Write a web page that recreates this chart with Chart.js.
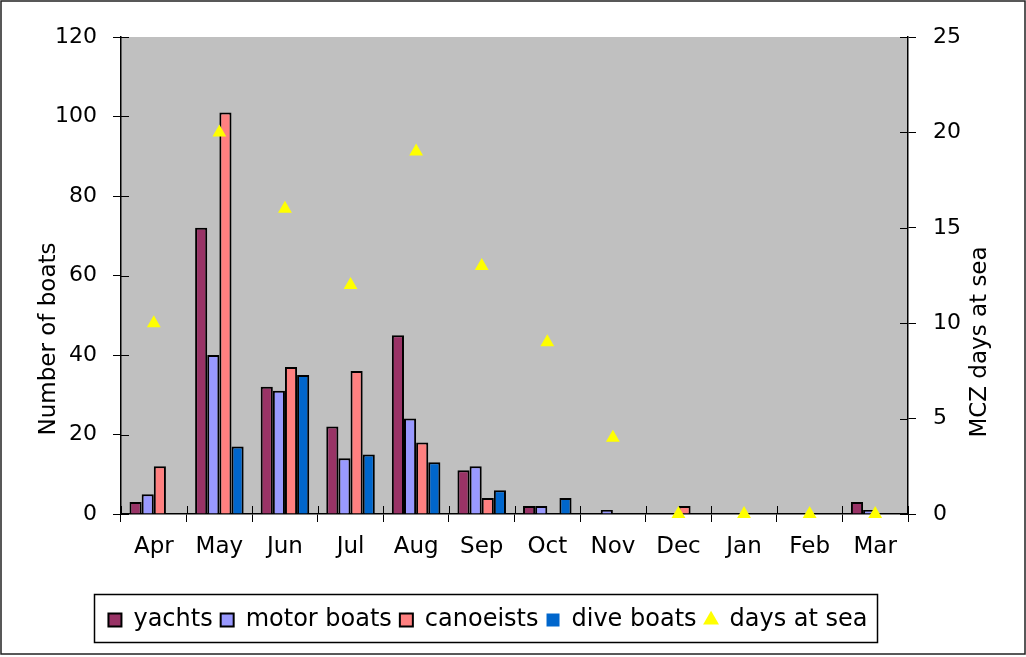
<!DOCTYPE html>
<html>
<head>
<meta charset="utf-8">
<script src="https://cdn.jsdelivr.net/npm/chart.js@4.4.1/dist/chart.umd.min.js"></script>
<style>
  html, body { margin: 0; padding: 0; background: #fff; }
  #wrap { width: 1026px; height: 657px; position: relative; }
</style>
</head>
<body>
<div id="wrap"><canvas id="c"></canvas></div>
<script>
const months = ['Apr','May','Jun','Jul','Aug','Sep','Oct','Nov','Dec','Jan','Feb','Mar'];
const yachts     = [3, 72, 32, 22, 45, 11, 2, 0, 0, 0, 0, 3];
const motorBoats = [5, 40, 31, 14, 24, 12, 2, 1, 0, 0, 0, 1];
const canoeists  = [12, 101, 37, 36, 18, 4, 0, 0, 2, 0, 0, 0];
const diveBoats  = [0, 17, 35, 15, 13, 6, 4, 0, 0, 0, 0, 0];
const daysAtSea  = [10, 20, 16, 12, 19, 13, 9, 4, 0, 0, 0, 0];
const leftTitle = 'Number of boats';
const rightTitle = 'MCZ days at sea';

const FONT = 'DejaVu Sans';
Chart.defaults.font.family = FONT;
Chart.defaults.color = '#000';

const bw = ctx => (ctx.raw === 0 ? 0 : 2);

const deco = {
  id: 'deco',
  beforeDraw(chart) {
    const {ctx, chartArea: a, width, height} = chart;
    ctx.save();
    ctx.fillStyle = '#fff';
    ctx.fillRect(0, 0, width, height);
    ctx.fillStyle = '#C0C0C0';
    ctx.fillRect(a.left, a.top, a.right - a.left, a.bottom - a.top);
    ctx.restore();
  },
  afterDraw(chart) {
    const {ctx, chartArea: a, scales} = chart;
    ctx.save();
    // inner halves of tick marks
    ctx.strokeStyle = '#000';
    ctx.lineWidth = 1;
    ctx.beginPath();
    scales.y.ticks.forEach(t => {
      const y = Math.round(scales.y.getPixelForValue(t.value)) + 0.5;
      ctx.moveTo(a.left, y); ctx.lineTo(a.left + 8, y);
    });
    scales.y1.ticks.forEach(t => {
      const y = Math.round(scales.y1.getPixelForValue(t.value)) + 0.5;
      ctx.moveTo(a.right - 8, y); ctx.lineTo(a.right, y);
    });
    for (let i = 0; i <= months.length; i++) {
      const x = Math.round(scales.x.getPixelForValue(i - 0.5)) + 0.5;
      ctx.moveTo(x, a.bottom - 8); ctx.lineTo(x, a.bottom);
    }
    ctx.stroke();
    // axis titles
    ctx.fillStyle = '#000';
    ctx.font = '23px "' + FONT + '"';
    ctx.textAlign = 'center';
    ctx.textBaseline = 'middle';
    ctx.save();
    ctx.translate(49, 339);
    ctx.rotate(-Math.PI / 2);
    ctx.fillText(leftTitle, 0, 0);
    ctx.restore();
    ctx.save();
    ctx.translate(980, 342);
    ctx.rotate(-Math.PI / 2);
    ctx.fillText(rightTitle, 0, 0);
    ctx.restore();
    // legend frame
    const lg = chart.legend;
    if (lg && lg.legendHitBoxes && lg.legendHitBoxes.length) {
      const hb = lg.legendHitBoxes;
      const l = Math.min(...hb.map(h => h.left)) - 14;
      const r = Math.max(...hb.map(h => h.left + h.width)) + 10;
      ctx.strokeStyle = '#000';
      ctx.lineWidth = 1.5;
      ctx.strokeRect(Math.round(l) + 0.5, 594.5, Math.round(r - l), 48);
    }
    // outer frame
    ctx.strokeStyle = '#222';
    ctx.lineWidth = 1.5;
    ctx.strokeRect(1, 1, 1024, 653);
    ctx.restore();
  }
};

new Chart(document.getElementById('c'), {
  type: 'bar',
  data: {
    labels: months,
    datasets: [
      { label: 'yachts', data: yachts, backgroundColor: '#993366', borderColor: '#000', borderWidth: bw, pointStyle: 'rect', yAxisID: 'y' },
      { label: 'motor boats', data: motorBoats, backgroundColor: '#9999FF', borderColor: '#000', borderWidth: bw, pointStyle: 'rect', yAxisID: 'y' },
      { label: 'canoeists', data: canoeists, backgroundColor: '#FF8080', borderColor: '#000', borderWidth: bw, pointStyle: 'rect', yAxisID: 'y' },
      { label: 'dive boats', data: diveBoats, backgroundColor: '#0066CC', borderColor: '#000', borderWidth: bw, pointStyle: 'rect', yAxisID: 'y' },
      { type: 'line', label: 'days at sea', data: daysAtSea, showLine: false, yAxisID: 'y1',
        pointStyle: 'triangle', pointRadius: 8, pointHoverRadius: 8, pointBackgroundColor: '#FFFF00',
        pointBorderColor: '#FFFF00', pointBorderWidth: 0, backgroundColor: '#FFFF00', borderColor: '#FFFF00',
        borderWidth: 0, clip: false, order: -1 }
    ]
  },
  options: {
    responsive: true,
    maintainAspectRatio: false,
    animation: false,
    events: [],
    layout: { padding: { top: 37, left: 0, right: 50, bottom: 15 } },
    datasets: { bar: { categoryPercentage: 0.74, barPercentage: 1.0 } },
    plugins: {
      tooltip: { enabled: false },
      legend: {
        position: 'bottom',
        labels: {
          usePointStyle: true,
          boxWidth: 13, boxHeight: 13,
          padding: 8,
          font: { size: 24, family: FONT },
          color: '#000',
          sort: (a, b) => a.datasetIndex - b.datasetIndex
        }
      }
    },
    scales: {
      x: {
        grid: { display: true, drawOnChartArea: false, drawTicks: true, tickLength: 8, color: '#000', offset: true },
        border: { display: true, color: '#000', width: 1.5 },
        ticks: { font: { size: 23 }, color: '#000', padding: 11, maxRotation: 0, autoSkip: false },
        afterFit(s) { s.height = 86; }
      },
      y: {
        position: 'left', min: 0, max: 120,
        grid: { display: true, drawOnChartArea: false, drawTicks: true, tickLength: 8, color: '#000' },
        border: { display: true, color: '#000', width: 1.5 },
        ticks: { stepSize: 20, font: { size: 22 }, color: '#000', padding: 16 },
        afterFit(s) { s.width = 121; }
      },
      y1: {
        position: 'right', min: 0, max: 25,
        grid: { display: true, drawOnChartArea: false, drawTicks: true, tickLength: 8, color: '#000' },
        border: { display: true, color: '#000', width: 1.5 },
        ticks: { stepSize: 5, font: { size: 22 }, color: '#000', padding: 17 },
        afterFit(s) { s.width = 68; }
      }
    }
  },
  plugins: [deco]
});
</script>
</body>
</html>
